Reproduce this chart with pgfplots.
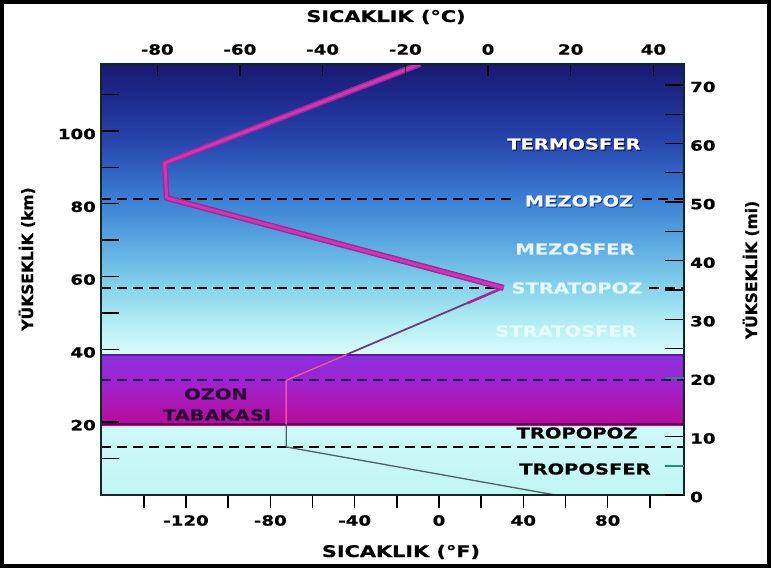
\documentclass[border=0pt]{standalone}
\usepackage{fontspec}
\usepackage{pgfplots}
\pgfplotsset{compat=1.18}
\newfontfamily\hfont{DejaVu Sans}[FakeStretch=1.3, BoldFeatures={FakeBold=0.6}]
\newfontfamily\vfont{DejaVu Sans}[BoldFeatures={FakeBold=0.6}]
\definecolor{axcol}{HTML}{102828}
\definecolor{g0}{HTML}{C2F5F5}
\definecolor{g0t}{HTML}{CEF9F9}
\definecolor{g1}{HTML}{DCFCFC}
\definecolor{g2}{HTML}{B4EEF4}
\definecolor{g3}{HTML}{86D2EC}
\definecolor{g4}{HTML}{58A6E0}
\definecolor{g5}{HTML}{3A7CD2}
\definecolor{g6}{HTML}{2848B0}
\definecolor{g7}{HTML}{1E2C90}
\definecolor{g8}{HTML}{1A1A72}
\definecolor{ozb}{HTML}{B60C98}
\definecolor{ozm}{HTML}{A420C8}
\definecolor{ozt}{HTML}{8A30E0}
\definecolor{oztop}{HTML}{5A1A9A}
\definecolor{ozbot}{HTML}{4A0A50}
\definecolor{ozlight}{HTML}{F4D4F4}
\definecolor{ozdash}{HTML}{2A1060}
\definecolor{magout}{HTML}{A8249A}
\definecolor{magin}{HTML}{C43CB4}
\definecolor{thinl}{HTML}{6E3C7E}
\definecolor{pinkl}{HTML}{F050B0}
\definecolor{grayl}{HTML}{506068}
\definecolor{teal}{HTML}{2A8A80}
\definecolor{cShadow}{HTML}{0A0A30}
\definecolor{cMezS}{HTML}{1A3A8A}
\definecolor{cMez}{HTML}{F4F8FF}
\definecolor{cMezf}{HTML}{EAF4FF}
\definecolor{cStp}{HTML}{E4FAFF}
\definecolor{cSts}{HTML}{E6FCFF}
\definecolor{cOz}{HTML}{2A0838}
\newcommand{\tickfont}{\hfont\bfseries\fontsize{14}{15}\selectfont}
\newcommand{\labfont}{\hfont\bfseries\fontsize{15}{16}\selectfont}
\newcommand{\titfont}{\hfont\bfseries\fontsize{16}{17}\selectfont}
\newcommand{\vtitfont}{\vfont\bfseries\fontsize{15.5}{16}\selectfont}
\pgfplotsset{ov/.style={at={(101pt,73pt)}, anchor=south west, scale only axis,
  width=583pt, height=431pt}}
\begin{document}
\begin{tikzpicture}
\path[use as bounding box] (0pt,0pt) rectangle (771pt,568pt);
\fill[white] (0pt,0pt) rectangle (771pt,568pt);
% main axis: km (left)
\begin{axis}[ov,
  xmin=-93.6, xmax=47.4, ymin=0, ymax=118.4,
  axis on top,
  axis line style={axcol, line width=1.8pt},
  xtick=\empty,
  ytick pos=left,
  ytick={10,20,40,50,60,70,80,90,100,110},
  yticklabels={,20,40,,60,,80,,100,},
  tick align=inside,
  tick style={black, line width=1.4pt},
  major tick length=18pt,
  yticklabel style={font=\tickfont, inner sep=0pt, anchor=east, xshift=-5pt, yshift=-3pt},
]
% background gradient
\addplot[draw=none, bottom color=g0, top color=g0t] coordinates {(-93.6,0) (47.4,0) (47.4,19.4) (-93.6,19.4)} -- cycle;
\addplot[draw=none, bottom color=g1, top color=g2] coordinates {(-93.6,38.3) (47.4,38.3) (47.4,47.3) (-93.6,47.3)} -- cycle;
\addplot[draw=none, bottom color=g2, top color=g3] coordinates {(-93.6,47) (47.4,47) (47.4,57.3) (-93.6,57.3)} -- cycle;
\addplot[draw=none, bottom color=g3, top color=g4] coordinates {(-93.6,57) (47.4,57) (47.4,70.3) (-93.6,70.3)} -- cycle;
\addplot[draw=none, bottom color=g4, top color=g5] coordinates {(-93.6,70) (47.4,70) (47.4,82.3) (-93.6,82.3)} -- cycle;
\addplot[draw=none, bottom color=g5, top color=g6] coordinates {(-93.6,82) (47.4,82) (47.4,96.3) (-93.6,96.3)} -- cycle;
\addplot[draw=none, bottom color=g6, top color=g7] coordinates {(-93.6,96) (47.4,96) (47.4,108.3) (-93.6,108.3)} -- cycle;
\addplot[draw=none, bottom color=g7, top color=g8] coordinates {(-93.6,108) (47.4,108) (47.4,118.4) (-93.6,118.4)} -- cycle;
% ozone layer
\addplot[draw=none, bottom color=ozb, top color=ozm] coordinates {(-93.6,19.2) (47.4,19.2) (47.4,29.2) (-93.6,29.2)} -- cycle;
\addplot[draw=none, bottom color=ozm, top color=ozt] coordinates {(-93.6,29) (47.4,29) (47.4,38.5) (-93.6,38.5)} -- cycle;
\addplot[oztop, line width=1.5pt] coordinates {(-93.6,38.5) (47.4,38.5)};
\addplot[ozbot, line width=2pt] coordinates {(-93.6,19.4) (47.4,19.4)};
\addplot[ozlight, line width=1pt] coordinates {(-93.6,18.8) (47.4,18.8)};
% dashed boundaries
\addplot[black, line width=1.8pt, dash pattern=on 10pt off 6pt] coordinates {(-93.6,81.3) (6.5,81.3)};
\addplot[black, line width=1.8pt, dash pattern=on 10pt off 6pt] coordinates {(37.2,81.3) (47.4,81.3)};
\addplot[black, line width=1.8pt, dash pattern=on 10pt off 6pt] coordinates {(-93.6,56.8) (2.9,56.8)};
\addplot[black, line width=1.8pt, dash pattern=on 10pt off 6pt] coordinates {(38.9,56.8) (47.4,56.8)};
\addplot[ozdash, line width=1.8pt, dash pattern=on 10pt off 6pt] coordinates {(-93.6,31.5) (47.4,31.5)};
\addplot[black, line width=1.8pt, dash pattern=on 10pt off 6pt] coordinates {(-93.6,13.2) (47.4,13.2)};
% temperature profile
\addplot[thinl, line width=1.8pt] coordinates {(3.6,56.9) (-48.8,31.5)};
\addplot[magout, line width=2.6pt] coordinates {(3.6,56.9) (-5,52.7)};
\addplot[pinkl, line width=1.5pt] coordinates {(-34.3,38.5) (-48.8,31.5) (-48.8,19.4)};
\addplot[grayl, line width=1.3pt] coordinates {(-48.8,19.2) (-48.8,13.2) (16.3,0)};
\addplot[magout, line width=6pt, line join=round] coordinates {(-16.4,118.4) (-78.2,91.2) (-77.7,81.6) (3.8,56.9)};
\addplot[magin, line width=3pt, line join=round] coordinates {(-16.4,118.4) (-78.2,91.2) (-77.7,81.6) (3.8,56.9)};
\end{axis}
% degC axis (top)
\begin{axis}[ov,
  xmin=-93.6, xmax=47.4, ymin=0, ymax=1,
  axis x line*=top, axis y line=none,
  x axis line style={axcol, line width=1.8pt, -},
  xtick={-80,-60,-40,-20,0,20,40},
  xticklabels={-80,-60,-40,-20,0,20,40},
  tick align=inside,
  tick style={black, line width=1.4pt},
  major tick length=12pt,
  xticklabel style={font=\tickfont, inner sep=0pt, anchor=south, yshift=9pt},
]
\end{axis}
% degF axis (bottom)
\begin{axis}[ov,
  xmin=-160.3, xmax=116.2, ymin=0, ymax=1,
  axis x line*=bottom, axis y line=none,
  x axis line style={axcol, line width=1.8pt, -},
  xtick={-140,-120,...,100},
  xticklabels={,-120,,-80,,-40,,0,,40,,80,},
  tick align=outside,
  tick style={black, line width=1.4pt},
  major tick length=13pt,
  xticklabel style={font=\tickfont, inner sep=0pt, anchor=north, yshift=-7pt},
]
\end{axis}
% miles axis (right)
\begin{axis}[ov,
  xmin=0, xmax=1, ymin=0, ymax=73.57,
  axis y line*=right, axis x line=none,
  y axis line style={axcol, line width=1.8pt, -},
  ytick={0,10,25,30,35,40,45,50,55,60,65,70},
  yticklabels={0,10,,30,,40,,50,,60,,70},
  extra y ticks={5,20}, extra y tick labels={,20},
  extra y tick style={tick style={teal, line width=1.6pt}},
  tick align=inside,
  tick style={black, line width=1.4pt},
  major tick length=19pt,
  yticklabel style={font=\tickfont, inner sep=0pt, anchor=west, xshift=6pt, yshift=-2pt},
]
\end{axis}
% titles
\node[font=\titfont, anchor=base, inner sep=0pt] at (386pt,546pt) {SICAKLIK (°C)};
\node[font=\titfont, anchor=base, inner sep=0pt] at (401pt,11pt) {SICAKLIK (°F)};
\node[font=\vtitfont, anchor=base, inner sep=0pt, rotate=90] at (33pt,309pt) {YÜKSEKLİK (km)};
\node[font=\vtitfont, anchor=base, inner sep=0pt, rotate=90] at (757pt,298pt) {YÜKSEKLİK (mi)};
% layer labels
\node[font=\labfont, text=cShadow, inner sep=0pt] at (575pt,423pt) {TERMOSFER};
\node[font=\labfont, text=white, inner sep=0pt] at (574pt,424pt) {TERMOSFER};
\node[font=\labfont, text=cMezS, inner sep=0pt] at (580pt,366pt) {MEZOPOZ};
\node[font=\labfont, text=cMez, inner sep=0pt] at (579pt,367pt) {MEZOPOZ};
\node[font=\labfont, text=cMezf, inner sep=0pt] at (575pt,319pt) {MEZOSFER};
\node[font=\labfont, text=cStp, inner sep=0pt] at (577pt,280pt) {STRATOPOZ};
\node[font=\labfont, text=cSts, inner sep=0pt] at (566pt,237pt) {STRATOSFER};
\node[font=\labfont, text=cOz, inner sep=0pt] at (216pt,174pt) {OZON};
\node[font=\labfont, text=cOz, inner sep=0pt] at (217pt,153pt) {TABAKASI};
\node[font=\labfont, text=black, inner sep=0pt] at (577pt,135pt) {TROPOPOZ};
\node[font=\labfont, text=black, inner sep=0pt] at (585pt,99pt) {TROPOSFER};
% outer frame
\draw[black, line width=4pt] (2pt,2pt) rectangle (769pt,566pt);
\end{tikzpicture}
\end{document}
